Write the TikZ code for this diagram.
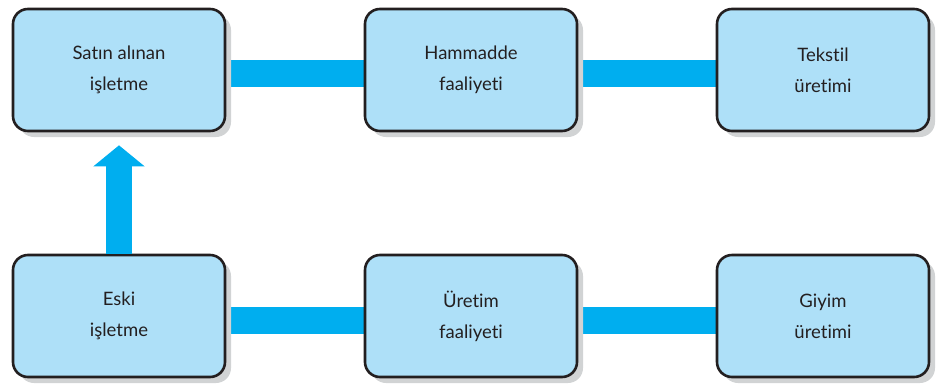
\documentclass[tikz,border=0pt]{standalone}
\usepackage{fontspec}
\setmainfont{Lato}[Ligatures={NoCommon,NoDiscretionary,NoContextual}]
\usetikzlibrary{shadows,backgrounds,arrows.meta}
\definecolor{boxfill}{HTML}{AEE0F8}
\definecolor{barcyan}{HTML}{00AEEF}
\definecolor{inkdark}{HTML}{231F20}
\definecolor{shadegray}{HTML}{D1D3D4}
\tikzset{
  stage/.style={draw=inkdark, line width=2.6pt, fill=boxfill, rounded corners=15pt,
    minimum width=212pt, minimum height=122pt, align=center, text=inkdark,
    font=\fontsize{18.5}{31}\selectfont,
    drop shadow={shadow xshift=6pt, shadow yshift=-6pt, fill=shadegray, opacity=1}},
  link/.style={draw=barcyan, line width=27pt},
  rise/.style={draw=barcyan, line width=26pt, shorten >=13pt,
    -{Triangle[length=21pt,width=50pt,fill=barcyan]}}
}
\begin{document}
\begin{tikzpicture}[x=1pt,y=-1pt]
  \useasboundingbox (0,0) rectangle (944,383);
  % upper row
  \node[stage] (satin) at (119,70) {Satın alınan\\işletme};
  \node[stage] (hammadde) at (471,70) {Hammadde\\faaliyeti};
  \node[stage] (tekstil) at (823,70) {Tekstil\\üretimi};
  % lower row
  \node[stage] (eski) at (119,316) {Eski\\işletme};
  \node[stage] (uretim) at (471,316) {Üretim\\faaliyeti};
  \node[stage] (giyim) at (823,316) {Giyim\\üretimi};
  \begin{scope}[on background layer]
    \draw[link] ([yshift=-3pt]satin.east) -- ([yshift=-3pt]hammadde.west);
    \draw[link] ([yshift=-3pt]hammadde.east) -- ([yshift=-3pt]tekstil.west);
    \draw[link] ([yshift=-4pt]eski.east) -- ([yshift=-4pt]uretim.west);
    \draw[link] ([yshift=-4pt]uretim.east) -- ([yshift=-4pt]giyim.west);
  \end{scope}
  \draw[rise] (eski.north) -- (satin.south);
\end{tikzpicture}
\end{document}
